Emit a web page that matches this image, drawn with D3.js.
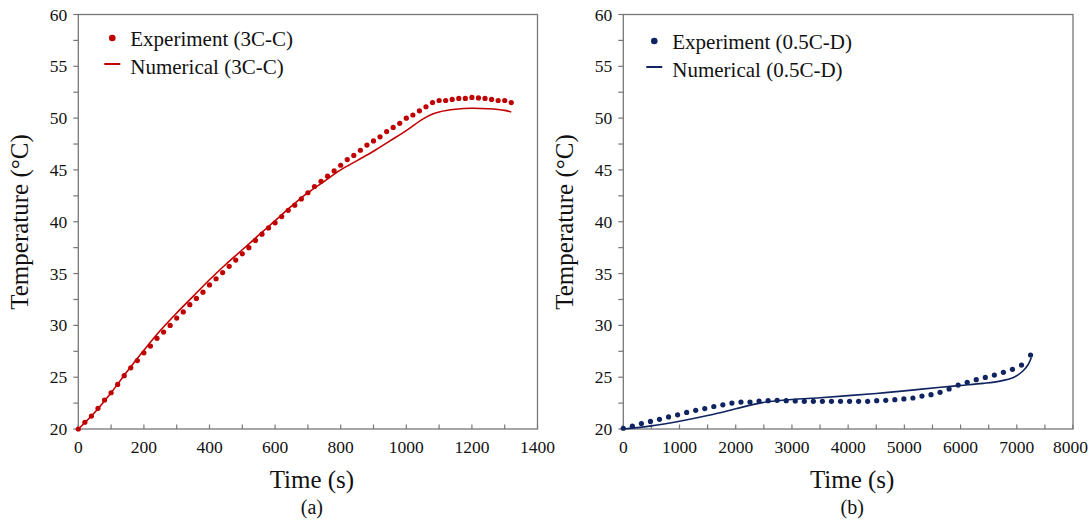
<!DOCTYPE html>
<html>
<head>
<meta charset="utf-8">
<script src="https://cdn.jsdelivr.net/npm/d3@7"></script>
<style>
  body { margin: 0; background: #fff; }
  text { font-family: 'Liberation Serif', 'Times New Roman', serif; fill: #111; }
</style>
</head>
<body>
<div id="chart"></div>
<script>
// panel (a) : 3C-C, experiment dots every 20 s
let timeExpA = [0, 20, 40, 60, 80, 100, 120, 140, 160, 180, 200, 220, 240, 260, 280, 300, 320, 340, 360, 380,
  400, 420, 440, 460, 480, 500, 520, 540, 560, 580, 600, 620, 640, 660, 680, 700, 720, 740, 760, 780,
  800, 820, 840, 860, 880, 900, 920, 940, 960, 980, 1000, 1020, 1040, 1060, 1080, 1100, 1120, 1140, 1160, 1180,
  1200, 1220, 1240, 1260, 1280, 1300, 1320];
let tempExpA = [20.0, 20.65, 21.25, 22.0, 22.8, 23.5, 24.3, 25.15, 25.9, 26.6, 27.35, 28.0, 28.75, 29.35, 30.0, 30.7, 31.3, 32.0, 32.6, 33.2,
  33.9, 34.5, 35.1, 35.7, 36.3, 36.9, 37.5, 38.2, 38.8, 39.4, 39.9, 40.5, 41.1, 41.6, 42.2, 42.8, 43.4, 43.9, 44.4, 44.9,
  45.45, 46.0, 46.4, 46.9, 47.4, 47.8, 48.2, 48.7, 49.1, 49.5, 50.0, 50.3, 50.7, 51.1, 51.5, 51.7, 51.7, 51.8, 51.9, 51.9,
  52.0, 51.95, 51.9, 51.8, 51.7, 51.7, 51.5];
let timeNumA = [0, 50, 100, 150, 200, 250, 300, 350, 400, 450, 500, 550, 600, 650, 700, 750, 800, 850, 900, 950,
  1000, 1050, 1080, 1100, 1150, 1200, 1250, 1300, 1320];
let tempNumA = [20.0, 21.6, 23.5, 25.6, 27.6, 29.5, 31.2, 32.8, 34.4, 35.9, 37.3, 38.7, 40.1, 41.5, 42.8, 43.9, 45.0, 45.9, 46.8, 47.8,
  48.8, 49.9, 50.4, 50.6, 50.85, 50.95, 50.9, 50.75, 50.6];

// panel (b) : 0.5C-D
let timeExpB = [0, 161, 322, 483, 644, 805, 966, 1127, 1288, 1449, 1610, 1771, 1932, 2093, 2254, 2415, 2576, 2737, 2898, 3059,
  3220, 3381, 3542, 3703, 3864, 4025, 4186, 4347, 4508, 4669, 4830, 4991, 5152, 5313, 5474, 5635, 5796, 5957, 6118, 6279,
  6440, 6601, 6762, 6923, 7084, 7245];
let tempExpB = [20.07, 20.27, 20.53, 20.73, 20.93, 21.17, 21.37, 21.6, 21.8, 21.97, 22.17, 22.33, 22.5, 22.6, 22.6, 22.7, 22.73, 22.77, 22.73, 22.7,
  22.67, 22.67, 22.67, 22.67, 22.67, 22.67, 22.67, 22.67, 22.73, 22.77, 22.83, 22.9, 22.99, 23.18, 23.31, 23.54, 23.86, 24.24, 24.5, 24.76,
  24.98, 25.2, 25.47, 25.76, 26.17, 27.14];
let timeNumB = [0, 500, 1000, 1500, 2000, 2300, 2600, 3000, 3500, 4000, 4500, 5000, 5600, 6000, 6400, 6700, 6950, 7100, 7200, 7260];
let tempNumB = [20.0, 20.3, 20.75, 21.3, 21.95, 22.35, 22.65, 22.85, 23.02, 23.22, 23.43, 23.68, 24.0, 24.2, 24.4, 24.62, 25.0, 25.55, 26.2, 26.9];

let yTicks = [20, 25, 30, 35, 40, 45, 50, 55, 60];
let xTicksA = [0, 200, 400, 600, 800, 1000, 1200, 1400];
let xTicksB = [0, 1000, 2000, 3000, 4000, 5000, 6000, 7000, 8000];

let W = 1089;

let svg = d3.select('#chart')
  .append('svg')
  .attr('width', W)
  .attr('height', 520);

svg.append('rect').attr('width', W).attr('height', 520).style('fill', '#fff');

function createPanel(opt) {
  let x = d3.scaleLinear().domain([0, opt.xMax]).range([opt.left, opt.right]);
  let y = d3.scaleLinear().domain([20, 60]).range([429, 14.5]);
  let g = svg.append('g');

  // minor ticks
  let yMinor = d3.range(20, 60.01, 2.5);
  let xMinor = d3.range(0, opt.xMax + 0.1, opt.xMinor);

  g.selectAll('.ytick')
    .data(yMinor)
    .enter()
    .append('line')
    .attr('x1', opt.left - 5)
    .attr('x2', opt.left)
    .attr('y1', (d) => y(d))
    .attr('y2', (d) => y(d))
    .style('stroke', '#777')
    .style('stroke-width', 1.2);

  g.selectAll('.xtick')
    .data(xMinor)
    .enter()
    .append('line')
    .attr('x1', (d) => x(d))
    .attr('x2', (d) => x(d))
    .attr('y1', 429)
    .attr('y2', 424.5)
    .style('stroke', '#777')
    .style('stroke-width', 1.2);

  g.append('rect')
    .attr('x', opt.left)
    .attr('y', 14.5)
    .attr('width', opt.right - opt.left)
    .attr('height', 429 - 14.5)
    .style('fill', 'none')
    .style('stroke', '#777')
    .style('stroke-width', 1.3);

  g.selectAll('.ylab')
    .data(yTicks)
    .enter()
    .append('text')
    .attr('x', opt.left - 11)
    .attr('y', (d) => y(d) + 6)
    .attr('text-anchor', 'end')
    .style('font-size', '17.5px')
    .text((d) => d);

  g.selectAll('.xlab')
    .data(opt.xTicks)
    .enter()
    .append('text')
    .attr('x', (d) => x(d))
    .attr('y', 453)
    .attr('text-anchor', 'middle')
    .style('font-size', '17.5px')
    .text((d) => d)
    .each(function (d) {
      // keep the last label inside the picture
      let half = this.getComputedTextLength() / 2;
      if (x(d) + half > W - 1) d3.select(this).attr('x', W - 1 - half);
    });

  let mid = (opt.left + opt.right) / 2;
  g.append('text')
    .attr('x', mid + 4)
    .attr('y', 488)
    .attr('text-anchor', 'middle')
    .style('font-size', '25px')
    .text('Time (s)');

  g.append('text')
    .attr('x', mid + 4)
    .attr('y', 514)
    .attr('text-anchor', 'middle')
    .style('font-size', '20px')
    .text(opt.tag);

  g.append('text')
    .attr('transform', `translate(${opt.left - 50},222) rotate(-90)`)
    .attr('text-anchor', 'middle')
    .style('font-size', '25px')
    .text('Temperature (°C)');

  // numerical line
  let line = d3.line()
    .x((d) => x(d[0]))
    .y((d) => y(d[1]))
    .curve(d3.curveCatmullRom.alpha(0.5));

  g.append('path')
    .datum(d3.zip(opt.timeNum, opt.tempNum))
    .attr('d', line)
    .style('fill', 'none')
    .style('stroke', opt.color)
    .style('stroke-width', 1.6);

  g.selectAll('.dot')
    .data(d3.zip(opt.timeExp, opt.tempExp))
    .enter()
    .append('circle')
    .attr('cx', (d) => x(d[0]))
    .attr('cy', (d) => y(d[1]))
    .attr('r', 2.6)
    .style('fill', opt.color);

  // legend
  let lx = opt.left + opt.legendDx, ly = opt.legendDy;
  g.append('circle')
    .attr('cx', lx + 8)
    .attr('cy', ly)
    .attr('r', 3.3)
    .style('fill', opt.color);
  g.append('text')
    .attr('x', lx + 26)
    .attr('y', ly + 8)
    .style('font-size', '21px')
    .text(opt.expLabel);
  g.append('line')
    .attr('x1', lx)
    .attr('x2', lx + 16)
    .attr('y1', ly + 26)
    .attr('y2', ly + 26)
    .style('stroke', opt.color)
    .style('stroke-width', 2);
  g.append('text')
    .attr('x', lx + 26)
    .attr('y', ly + 36)
    .style('font-size', '21px')
    .text(opt.numLabel);
}

createPanel({
  left: 78.3, right: 537.5, xMax: 1400, xMinor: 100, xTicks: xTicksA,
  timeExp: timeExpA, tempExp: tempExpA, timeNum: timeNumA, tempNum: tempNumA,
  color: '#c00000', tag: '(a)', legendDx: 26, legendDy: 38,
  expLabel: 'Experiment (3C-C)', numLabel: 'Numerical (3C-C)'
});

createPanel({
  left: 623.3, right: 1073, xMax: 8000, xMinor: 500, xTicks: xTicksB,
  timeExp: timeExpB, tempExp: tempExpB, timeNum: timeNumB, tempNum: tempNumB,
  color: '#0f2461', tag: '(b)', legendDx: 23, legendDy: 41,
  expLabel: 'Experiment (0.5C-D)', numLabel: 'Numerical (0.5C-D)'
});
</script>
</body>
</html>
